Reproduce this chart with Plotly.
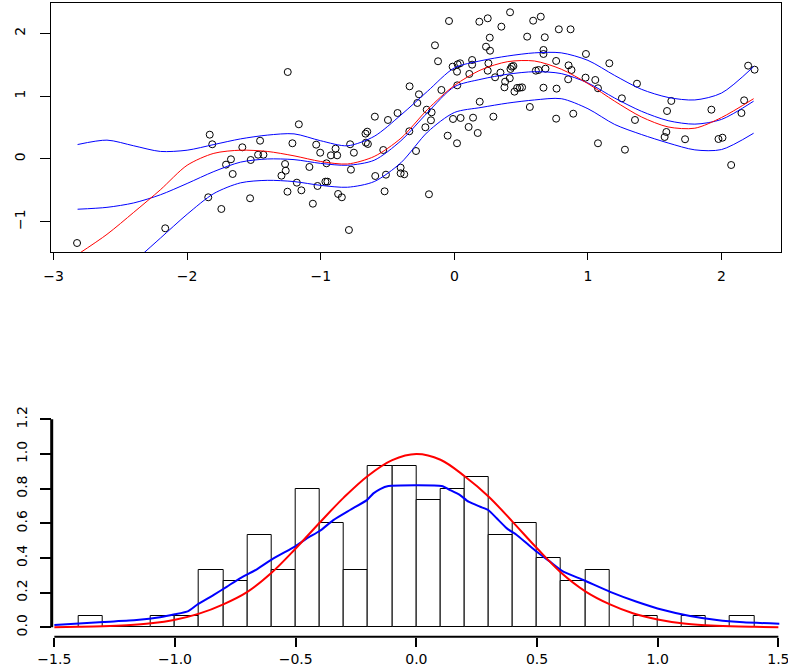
import plotly.graph_objects as go

# ---- top panel: scatter of observations ----
pts_x = [-2.824, -2.164, -1.842, -1.831, -1.812, -1.744, -1.709, -1.672, -1.659, -1.587,
         -1.529, -1.524, -1.454, -1.469, -1.429, -1.247, -1.294, -1.267, -1.262, -1.249,
         -1.212, -1.164, -1.179, -1.145, -1.085, -1.059, -1.034, -1.024, -1.004, -0.957,
         -0.965, -0.950, -0.924, -0.889, -0.877, -0.870, -0.842, -0.789, -0.774, -0.780,
         -0.752, -0.665, -0.652, -0.662, -0.647, -0.595, -0.592, -0.532, -0.512, -0.522,
         -0.497, -0.425,
         -0.402, -0.402, -0.375, -0.335, -0.337, -0.287, -0.265, -0.277, -0.217, -0.207,
         -0.170, -0.175, -0.190, -0.145, -0.122, -0.097,
         -0.040, -0.050, -0.013, 0.020, 0.020, 0.025, 0.043, 0.022, -0.010, 0.047,
         0.107, 0.112, 0.133, 0.133, 0.140, 0.175, 0.187, 0.190, 0.250, 0.237,
         0.265, 0.267, 0.250, 0.255, 0.292, 0.305, 0.345, 0.352, 0.375, 0.380,
         0.417, 0.415, 0.420, 0.430, 0.442, 0.450, 0.470, 0.490, 0.507, 0.545,
         0.565, 0.590, 0.610, 0.630, 0.647, 0.667, 0.667, 0.677, 0.682, 0.667,
         0.762, 0.765, 0.762, 0.782,
         0.870, 0.855, 0.877, 0.852, 0.890, 0.985, 0.982, 1.055, 1.075, 1.075,
         1.160, 1.254, 1.277, 1.352, 1.367, 1.592, 1.624, 1.587, 1.574, 1.727,
         1.924, 1.977, 2.007, 2.072, 2.149, 2.169, 2.199, 2.247]
pts_y = [-1.338, -1.104, -0.610, 0.387, 0.234, -0.796, -0.090, -0.005, -0.239, 0.186,
         -0.626, -0.016, 0.291, 0.068, 0.068, 1.385, -0.266, -0.080, -0.186, -0.521,
         0.250, 0.552, -0.377, -0.499, -0.127, -0.712, 0.228, -0.430, 0.100, -0.069,
         -0.361, -0.361, 0.058, 0.165, 0.058, -0.557, -0.610, -1.131, -0.170, 0.234,
         0.100, 0.403, 0.435, 0.260, 0.239, 0.674, -0.271, 0.143, -0.250, -0.515,
         0.621, 0.732,
         -0.138, -0.228, -0.244, 1.157, 0.441, 0.127, 1.030, 0.892, 0.505, 0.785,
         0.743, 0.616, -0.562, 1.810, 1.556, 1.099,
         2.197, 0.371, 1.470, 1.390, 0.250, 1.508, 1.524, 1.173, 0.637, 0.653,
         0.510, 1.354, 1.576, 1.502, 0.658, 0.414, 2.186, 0.912, 2.240, 1.788,
         1.932, 1.724, 1.406, 1.524, 0.674, 1.301, 1.375, 2.107, 1.141, 1.231,
         2.336, 1.285, 1.433, 1.470, 1.481, 1.072, 1.131, 1.135, 1.141, 1.948,
         0.828, 2.202, 1.406, 1.417, 2.266, 1.736, 1.672, 1.938, 1.438, 1.135,
         1.561, 1.120, 0.642, 2.065,
         2.065, 1.491, 1.417, 1.269, 0.721, 1.672, 1.295, 1.258, 1.126, 0.250,
         1.524, 0.966, 0.148, 0.621, 1.199, 0.764, 0.924, 0.430, 0.350, 0.314,
         0.785, 0.318, 0.339, -0.096, 0.732, 0.934, 1.486, 1.422]

# fitted curve (red) and blue curves, read at these x positions
fit_x = [-2.82, -2.6, -2.4, -2.2, -2.0, -1.8, -1.6, -1.4, -1.2, -1.0, -0.8, -0.6, -0.4,
         -0.2, 0.0, 0.2, 0.4, 0.6, 0.8, 1.0, 1.2, 1.4, 1.6, 1.8, 2.0, 2.24]
red_fit = [-1.52, -1.20, -0.85, -0.49, -0.10, 0.09, 0.14, 0.12, 0.05, -0.04, -0.08, 0.04,
           0.33, 0.79, 1.17, 1.42, 1.55, 1.56, 1.43, 1.20, 0.92, 0.67, 0.51, 0.49, 0.66, 0.96]
mid_fit = [-0.80, -0.77, -0.70, -0.57, -0.39, -0.20, -0.05, 0.00, -0.01, -0.07, -0.10, -0.02,
           0.29, 0.74, 1.15, 1.27, 1.35, 1.39, 1.36, 1.21, 0.97, 0.76, 0.61, 0.555, 0.63, 0.92]
upper_fit = [0.23, 0.30, 0.21, 0.12, 0.14, 0.23, 0.32, 0.38, 0.40, 0.29, 0.21, 0.36,
             0.70, 1.08, 1.45, 1.565, 1.64, 1.69, 1.69, 1.57, 1.33, 1.11, 0.98, 0.94, 1.05, 1.47]
lower_x = [-2.4, -2.2, -2.0, -1.8, -1.6, -1.4, -1.2, -1.0, -0.8, -0.6, -0.4, -0.2, 0.0,
           0.2, 0.4, 0.6, 0.8, 1.0, 1.2, 1.4, 1.6, 1.8, 2.0, 2.24]
lower_fit = [-1.64, -1.26, -0.88, -0.55, -0.38, -0.34, -0.36, -0.42, -0.45, -0.36, -0.06,
             0.43, 0.74, 0.82, 0.89, 0.94, 0.96, 0.80, 0.55, 0.39, 0.255, 0.145, 0.15, 0.41]

top_xticks = [-3, -2, -1, 0, 1, 2]
top_yticks = [-1, 0, 1, 2]

# ---- bottom panel: histogram + two density curves ----
bin_left = [-1.4, -1.3, -1.2, -1.1, -1.0, -0.9, -0.8, -0.7, -0.6, -0.5, -0.4, -0.3, -0.2, -0.1,
            0.0, 0.1, 0.2, 0.3, 0.4, 0.5, 0.6, 0.7, 0.8, 0.9, 1.0, 1.1, 1.2, 1.3]
hist_density = [0.067, 0, 0, 0.067, 0.067, 0.333, 0.267, 0.533, 0.333, 0.8, 0.6, 0.333, 0.933, 0.933,
                0.733, 0.8, 0.867, 0.533, 0.6, 0.4, 0.267, 0.333, 0, 0.067, 0, 0.067, 0, 0.067]

norm_x = [-1.5, -1.4, -1.3, -1.2, -1.1, -1.0, -0.9, -0.8, -0.7, -0.6, -0.5, -0.4, -0.3, -0.2, -0.1,
          0.0, 0.1, 0.2, 0.3, 0.4, 0.5, 0.6, 0.7, 0.8, 0.9, 1.0, 1.1, 1.2, 1.3, 1.4, 1.5]
norm_y = [0.001, 0.003, 0.006, 0.012, 0.023, 0.044, 0.079, 0.133, 0.205, 0.315, 0.455, 0.605,
          0.750, 0.875, 0.965, 1.0, 0.967, 0.872, 0.754, 0.607, 0.456, 0.315, 0.208, 0.134,
          0.080, 0.045, 0.023, 0.012, 0.006, 0.003, 0.001]

dens_x = [-1.5, -1.297, -1.159, -1.062, -1.001, -0.945, -0.910, -0.841, -0.786, -0.731, -0.661,
          -0.592, -0.5, -0.454, -0.399, -0.344, -0.275, -0.205, -0.178, -0.150, -0.116, 0.105,
          0.140, 0.181, 0.216, 0.264, 0.298, 0.333, 0.375, 0.416, 0.457, 0.499, 0.554, 0.609,
          0.692, 0.803, 0.913, 1.024, 1.134, 1.245, 1.355, 1.504]
dens_y = [0.013, 0.031, 0.042, 0.058, 0.075, 0.094, 0.129, 0.186, 0.234, 0.283, 0.335,
          0.398, 0.469, 0.513, 0.557, 0.619, 0.677, 0.734, 0.773, 0.798, 0.815, 0.815,
          0.792, 0.763, 0.725, 0.696, 0.677, 0.629, 0.571, 0.533, 0.485, 0.436, 0.379, 0.321,
          0.273, 0.205, 0.148, 0.100, 0.065, 0.042, 0.029, 0.021]

bot_xticks = [-1.5, -1.0, -0.5, 0.0, 0.5, 1.0, 1.5]
bot_yticks = [0.0, 0.2, 0.4, 0.6, 0.8, 1.0, 1.2]

W, H = 788, 671
FONT = dict(family="DejaVu Sans", size=14, color="black")

fig = go.Figure()

# top panel
fig.add_trace(go.Scatter(x=pts_x, y=pts_y, mode="markers", xaxis="x", yaxis="y",
                         marker=dict(symbol="circle-open", size=7, color="black",
                                     line=dict(width=1, color="black"))))
line_style = dict(shape="spline", smoothing=0.8, width=1)
fig.add_trace(go.Scatter(x=fit_x, y=upper_fit, mode="lines", xaxis="x", yaxis="y",
                         line=dict(color="blue", **line_style)))
fig.add_trace(go.Scatter(x=fit_x, y=mid_fit, mode="lines", xaxis="x", yaxis="y",
                         line=dict(color="blue", **line_style)))
fig.add_trace(go.Scatter(x=lower_x, y=lower_fit, mode="lines", xaxis="x", yaxis="y",
                         line=dict(color="blue", **line_style)))
fig.add_trace(go.Scatter(x=fit_x, y=red_fit, mode="lines", xaxis="x", yaxis="y",
                         line=dict(color="red", **line_style)))

# bottom panel
fig.add_trace(go.Bar(x=bin_left, y=hist_density, width=0.1, offset=0, xaxis="x2", yaxis="y2",
                     marker=dict(color="white", line=dict(color="black", width=1))))
fig.add_trace(go.Scatter(x=dens_x, y=dens_y, mode="lines", xaxis="x2", yaxis="y2",
                         line=dict(color="blue", width=2, shape="spline", smoothing=0.5)))
fig.add_trace(go.Scatter(x=norm_x, y=norm_y, mode="lines", xaxis="x2", yaxis="y2",
                         line=dict(color="red", width=2, shape="spline", smoothing=1)))

# bottom panel axis lines drawn from first to last tick, R style
fig.add_shape(type="line", xref="x2", yref="y2 domain", x0=min(bot_xticks), x1=max(bot_xticks),
              y0=0, y1=0, line=dict(color="black", width=2))
fig.add_shape(type="line", xref="x2 domain", yref="y2", x0=0, x1=0,
              y0=min(bot_yticks), y1=max(bot_yticks), line=dict(color="black", width=3))

fig.update_layout(
    width=W, height=H, showlegend=False, bargap=0, hovermode=False,
    margin=dict(l=0, r=0, t=0, b=0, autoexpand=False),
    paper_bgcolor="white", plot_bgcolor="white", font=FONT,
    xaxis=dict(domain=[51 / W, 781 / W], range=[-3.019, 2.445], anchor="y",
               tickvals=top_xticks, tickformat="d", ticks="outside", ticklen=7,
               tickcolor="black", showline=True, mirror=True, linecolor="black",
               linewidth=1, showgrid=False, zeroline=False, ticklabelstandoff=4,
               automargin=False),
    yaxis=dict(domain=[1 - 252.3 / H, 1 - 3.3 / H], range=[-1.486, 2.479], anchor="x",
               tickvals=top_yticks, tickformat="d", ticks="outside", ticklen=10,
               tickcolor="black", showline=True, mirror=True, linecolor="black",
               linewidth=1, showgrid=False, zeroline=False, tickangle=-90,
               ticklabelstandoff=9, automargin=False),
    xaxis2=dict(domain=[51.7 / W, 1.0], range=[-1.511, 1.540], anchor="y2",
                tickvals=bot_xticks, tickformat=".1f", ticks="outside", ticklen=9,
                tickwidth=2, tickcolor="black", showline=False, showgrid=False,
                zeroline=False, ticklabelstandoff=0, automargin=False,
                ticklabeloverflow="allow"),
    yaxis2=dict(domain=[1 - 636.7 / H, 1 - 410 / H], range=[-0.054, 1.254], anchor="x2",
                tickvals=bot_yticks, tickformat=".1f", ticks="outside", ticklen=11,
                tickwidth=2, tickcolor="black", showline=False, showgrid=False,
                zeroline=False, tickangle=-90, ticklabelstandoff=7, automargin=False),
)

# remove the browser's default page margin so the figure sits at the window origin
fig.write_html("out.html", config={"displayModeBar": False},
               post_script="document.body.style.margin='0';")
